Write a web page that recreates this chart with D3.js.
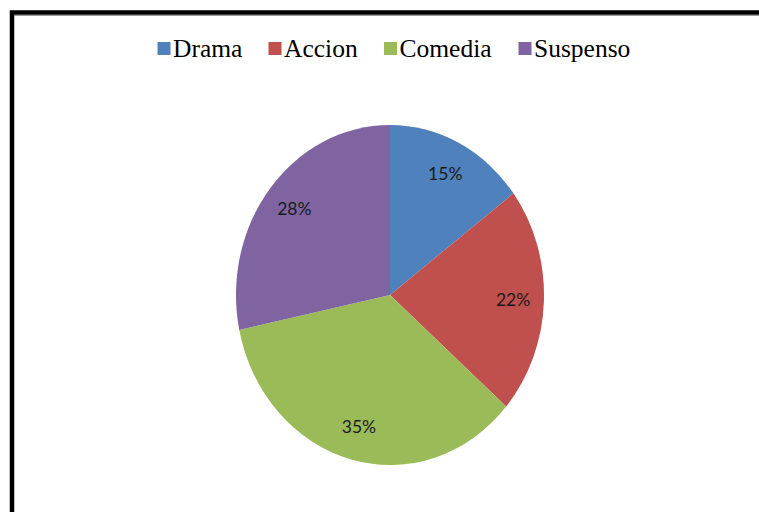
<!DOCTYPE html>
<html><head><meta charset="utf-8">
<script src="https://cdn.jsdelivr.net/npm/d3@7"></script>
<style>html,body{margin:0;padding:0;background:#fff;}svg{display:block;}</style>
</head><body>
<svg id="chart" width="759" height="512"></svg>
<script>
const categories = ["Drama", "Accion", "Comedia", "Suspenso"];
const values = [14.8, 21.6, 35.3, 28.3];
const labels = ["15%", "22%", "35%", "28%"];
const colors = ["#4F81BD", "#C0504D", "#9BBB59", "#8064A2"];

const svg = d3.select("#chart");
// frame
svg.append("rect").attr("x", 12).attr("y", 12.5).attr("width", 800).attr("height", 600)
  .attr("fill", "#fff").attr("stroke", "#000").attr("stroke-width", 4.5);
svg.append("line").attr("x1", 14).attr("x2", 759).attr("y1", 15.5).attr("y2", 15.5)
  .attr("stroke", "#999").attr("stroke-width", 1);

// legend
const legendX = [157.5, 268.5, 384, 518.5];
const lg = svg.append("g");
categories.forEach((c, i) => {
  lg.append("rect").attr("x", legendX[i]).attr("y", 42).attr("width", 13).attr("height", 13).attr("fill", colors[i]);
  lg.append("text").attr("x", legendX[i] + 15.5).attr("y", 57)
    .attr("font-family", "'Liberation Serif','Times New Roman',serif").attr("font-size", 25.5)
    .attr("fill", "#000").text(c);
});

// pie
const cx = 390, cy = 295, R = 170, sx = 0.906;
const pie = d3.pie().sort(null).value(d => d)(values);
const arc = d3.arc().innerRadius(0).outerRadius(R);
const g = svg.append("g").attr("transform", `translate(${cx},${cy}) scale(${sx},1)`);
g.selectAll("path").data(pie).enter().append("path")
  .attr("d", arc).attr("fill", (d, i) => colors[i]);

const labArc = d3.arc().innerRadius(R * 0.8).outerRadius(R * 0.8);
svg.append("g").selectAll("text").data(pie).enter().append("text")
  .attr("x", d => cx + labArc.centroid(d)[0] * sx)
  .attr("y", d => cy + labArc.centroid(d)[1])
  .attr("text-anchor", "middle").attr("dy", "0.35em")
  .attr("font-family", "Lato, 'Open Sans', sans-serif").attr("font-size", 17.5)
  .attr("fill", "#1a1a1a").text((d, i) => labels[i]);
</script>
</body></html>
